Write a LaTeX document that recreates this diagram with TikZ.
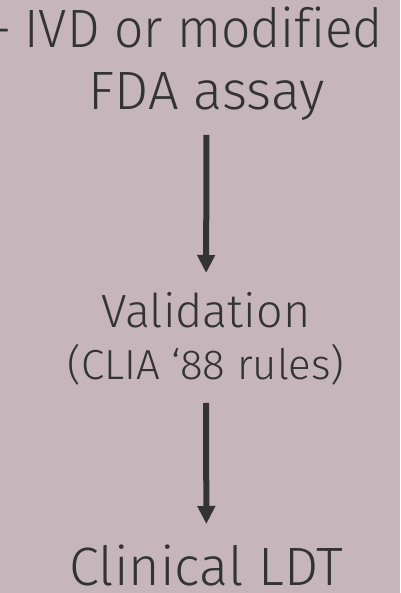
\documentclass[tikz,border=0pt]{standalone}
\usepackage{fontspec}
\setmainfont{Fira Sans Light}[Ligatures=NoCommon]
\usetikzlibrary{arrows.meta}
\definecolor{bgc}{HTML}{C6B5BB}
\definecolor{ink}{HTML}{333333}
\tikzset{
  lbl/.style={inner sep=0pt, outer sep=0pt, text=ink, anchor=base},
  big/.style={lbl, font=\fontsize{54}{54}\selectfont},
  tight/.style={lbl, font=\fontsize{54}{54}\selectfont\addfontfeatures{FakeStretch=0.955}},
  mid/.style={lbl, font=\fontsize{46.6}{46.6}\selectfont},
  small/.style={lbl, font=\fontsize{42}{42}\selectfont},
  arr/.style={draw=ink, line width=6pt, -{Triangle[width=17pt,length=18pt]}}
}
\begin{document}
\begin{tikzpicture}[x=1pt,y=1pt]
\fill[bgc] (0,0) rectangle (400,593);
\useasboundingbox (0,0) rectangle (400,593);
\node[tight, anchor=base east] (l1) at (383,545.5) {– IVD or modified};
\node[big] (fda) at (206.5,483) {FDA assay};
\node[mid] (val) at (206,265) {Validation};
\node[small] (clia) at (206,213) {(CLIA ‘88 rules)};
\node[big] (ldt) at (206.5,8) {Clinical LDT};
\draw[arr, shorten <=25pt, shorten >=55pt] (fda.base) -- (val.base);
\draw[arr, shorten <=23pt, shorten >=61pt] (clia.base) -- (ldt.base);
\end{tikzpicture}
\end{document}
